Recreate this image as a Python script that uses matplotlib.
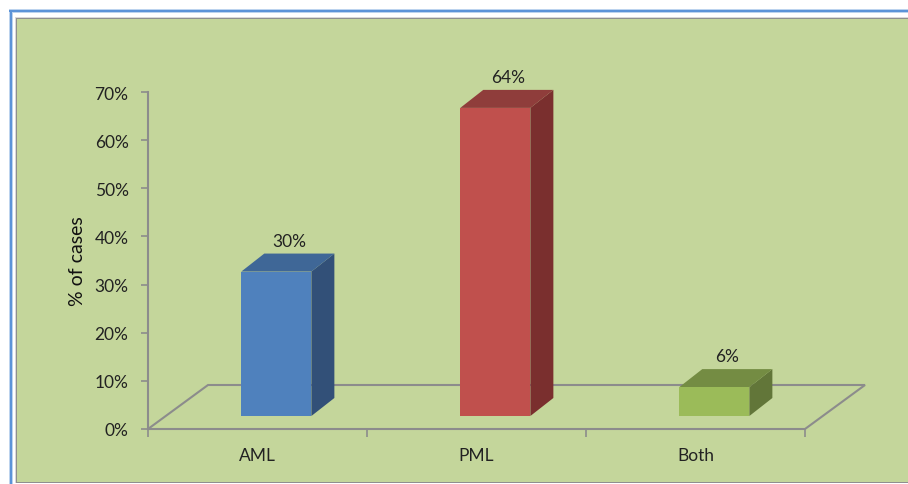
import matplotlib
matplotlib.use("Agg")
import matplotlib.pyplot as plt
from matplotlib.patches import Polygon, Rectangle

categories = ["AML", "PML", "Both"]
values = [30, 64, 6]
y_ticks = [0, 10, 20, 30, 40, 50, 60, 70]

front_colors = ["#4f81bd", "#c0504d", "#9bbb59"]
top_colors = ["#3f6797", "#8f3d3b", "#748c43"]
side_colors = ["#325078", "#7a2f2e", "#627639"]

plt.rcParams['font.family'] = ['Lato', 'DejaVu Sans']

W, H = 908, 485
fig = plt.figure(figsize=(W / 100, H / 100), dpi=100, facecolor="white")


def frame_rect(x, y, w, h, color, z):
    # pixel box measured from the top left of the figure, kept behind the axes
    fig.add_artist(Rectangle((x / W, 1 - (y + h) / H), w / W, h / H, transform=fig.transFigure,
                             facecolor=color, edgecolor="none", zorder=z))


# outer window border, then the chart area inside it
frame_rect(9, 10, 899, 3.5, "#bcd3ee", -6)
frame_rect(9, 11, 899, 2, "#5b93d8", -5)
frame_rect(9, 10, 3.5, 475, "#bcd3ee", -6)
frame_rect(10, 11, 2, 474, "#5b93d8", -5)
frame_rect(15, 18, 893, 466, "#d9d9d9", -4)
frame_rect(16, 19, 892, 464.5, "#8f8f8f", -3)
frame_rect(17, 20, 891, 462.5, "#c4d69b", -2)

ax = fig.add_axes([148 / W, 1 - 430 / H, 657 / W, 337 / H])
ax.patch.set_visible(False)
ax.set_xlim(0, len(categories))
ax.set_ylim(0, 70)

# the floor and bars are offset to fake the 3D look
floor_dx, floor_dy = 0.274, 9.14
bar_dx, bar_dy = 0.086, 2.7
depth_dx, depth_dy = 0.105, 3.74
bar_w = 0.32
axis_color = "#8c8c8c"

n = len(categories)
ax.add_patch(Polygon([(0, 0), (floor_dx, floor_dy), (n + floor_dx, floor_dy), (n, 0)],
                     closed=True, facecolor="none", edgecolor=axis_color, linewidth=1.5,
                     clip_on=False, zorder=1))

for i, v in enumerate(values):
    x0 = i + 0.5 - bar_w / 2 + bar_dx
    x1 = x0 + bar_w
    y0 = bar_dy
    y1 = y0 + v
    ax.add_patch(Polygon([(x1, y0), (x1 + depth_dx, y0 + depth_dy), (x1 + depth_dx, y1 + depth_dy), (x1, y1)],
                         closed=True, facecolor=side_colors[i], edgecolor="none", clip_on=False, zorder=2))
    ax.add_patch(Polygon([(x0, y1), (x0 + depth_dx, y1 + depth_dy), (x1 + depth_dx, y1 + depth_dy), (x1, y1)],
                         closed=True, facecolor=top_colors[i], edgecolor="none", clip_on=False, zorder=2))
    ax.bar(x0, v, width=bar_w, bottom=y0, align="edge", color=front_colors[i], zorder=3, clip_on=False)
    ax.annotate(f"{v}%", (x0 + bar_w / 2 + depth_dx / 2, y1 + depth_dy), xytext=(1, 3.5),
                textcoords="offset points", ha="center", va="bottom", fontsize=12.5, color="#222222",
                annotation_clip=False)

for s in ["top", "right", "bottom"]:
    ax.spines[s].set_visible(False)
ax.spines["left"].set_color(axis_color)
ax.spines["left"].set_linewidth(1.5)

ax.set_yticks(y_ticks)
ax.set_yticklabels([f"{t}%" for t in y_ticks], fontsize=12.5, color="#222222")
ax.tick_params(axis="y", length=5, width=1.2, color=axis_color, pad=9)

# boundaries get the tick marks, category names sit between them
ax.set_xticks(range(n + 1))
ax.set_xticklabels([])
ax.set_xticks([i + 0.5 for i in range(n)], minor=True)
ax.set_xticklabels(categories, minor=True, fontsize=12.5, color="#222222")
ax.tick_params(axis="x", which="major", length=6, width=1.2, color=axis_color)
ax.tick_params(axis="x", which="minor", length=0, pad=13)

ax.set_ylabel("% of cases", fontsize=14, color="#111111", labelpad=6)

fig.savefig("out.png", dpi=100)
